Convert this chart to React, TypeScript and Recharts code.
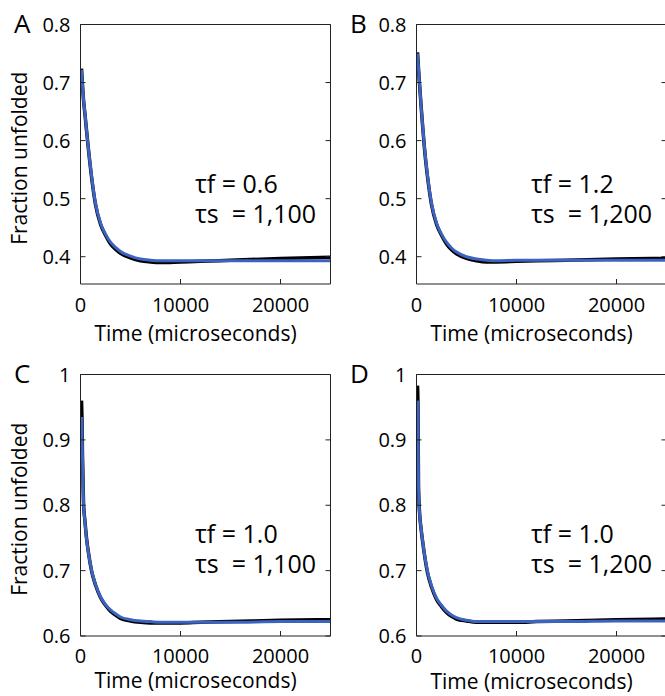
import { LineChart, Line, XAxis, YAxis } from 'recharts'

// time points (microseconds)
const timeUs = [100, 150, 200, 300, 450, 600, 800, 1100, 1500, 2000, 2500, 3000, 3500, 4000, 5000, 6000, 7000, 8000, 10000, 12000, 15000, 20000, 25000]

// panel A: tf = 0.6, ts = 1,100
const measuredA = [0.724, 0.710, 0.695, 0.670, 0.645, 0.618, 0.584, 0.538, 0.490, 0.456, 0.437, 0.422, 0.413, 0.406, 0.398, 0.393, 0.391, 0.390, 0.391, 0.392, 0.394, 0.397, 0.399]
const fitA = [0.722, 0.709, 0.695, 0.671, 0.646, 0.619, 0.585, 0.540, 0.492, 0.458, 0.439, 0.425, 0.416, 0.409, 0.401, 0.396, 0.394, 0.393, 0.393, 0.393, 0.393, 0.393, 0.393]

// panel B: tf = 1.2, ts = 1,200
const measuredB = [0.752, 0.738, 0.724, 0.698, 0.662, 0.628, 0.586, 0.538, 0.490, 0.456, 0.437, 0.422, 0.412, 0.405, 0.397, 0.393, 0.391, 0.391, 0.392, 0.393, 0.394, 0.396, 0.397]
const fitB = [0.750, 0.737, 0.724, 0.699, 0.663, 0.629, 0.588, 0.540, 0.492, 0.458, 0.439, 0.425, 0.415, 0.408, 0.400, 0.396, 0.394, 0.393, 0.394, 0.394, 0.394, 0.394, 0.394]

// panel C: tf = 1.0, ts = 1,100
const measuredC = [0.960, 0.930, 0.875, 0.805, 0.775, 0.750, 0.727, 0.700, 0.678, 0.659, 0.647, 0.638, 0.632, 0.627, 0.623, 0.621, 0.620, 0.620, 0.620, 0.621, 0.622, 0.624, 0.625]
const fitC = [0.935, 0.915, 0.872, 0.804, 0.774, 0.749, 0.727, 0.701, 0.679, 0.660, 0.648, 0.640, 0.634, 0.629, 0.625, 0.623, 0.622, 0.621, 0.621, 0.621, 0.621, 0.622, 0.622]

// panel D: tf = 1.0, ts = 1,200
const measuredD = [0.983, 0.950, 0.830, 0.790, 0.765, 0.746, 0.724, 0.697, 0.675, 0.656, 0.645, 0.636, 0.630, 0.626, 0.623, 0.621, 0.621, 0.621, 0.621, 0.622, 0.623, 0.625, 0.626]
const fitD = [0.960, 0.940, 0.828, 0.789, 0.766, 0.747, 0.725, 0.699, 0.677, 0.658, 0.647, 0.638, 0.632, 0.628, 0.624, 0.622, 0.622, 0.622, 0.622, 0.622, 0.622, 0.623, 0.623]

const xTicks = [0, 10000, 20000]
const yTicksTop = [0.4, 0.5, 0.6, 0.7, 0.8]
const yTicksBottom = [0.6, 0.7, 0.8, 0.9, 1]

const FRAME = '#222'
const BLUE = '#3d63c2'

interface PanelProps {
  letter: string
  measured: number[]
  fit: number[]
  yDomain: [number, number]
  yTicks: number[]
  plotHeight: number
  left: number
  top: number
  showYLabel: boolean
  labelOffset: number
  tickGap: number
  tauF: string
  tauS: string
}

function Panel({ measured, fit, yDomain, yTicks, plotHeight, left, top, showYLabel, labelOffset, tickGap }: PanelProps) {
  const data = timeUs.map((t, i) => ({ t, measured: measured[i], fit: fit[i] }))
  // half-pixel margins keep the 1px box lines crisp
  return (
    <div style={{ position: 'absolute', left, top }}>
      <LineChart width={335} height={24 + plotHeight + 66} data={data} margin={{ top: 23.5, right: 3.5, bottom: 0, left: 0.5 }}>
        <XAxis
          dataKey="t" type="number" domain={[0, 25000]} ticks={xTicks} interval={0}
          allowDataOverflow tickSize={-5} tickMargin={tickGap} height={66} stroke={FRAME}
          tick={{ fill: '#000', fontSize: 20 }}
          label={{ value: 'Time (microseconds)', position: 'insideBottom', offset: labelOffset, dx: -10, fill: '#000', fontSize: 21 }}
        />
        <XAxis
          xAxisId="top" orientation="top" type="number" domain={[0, 25000]} ticks={xTicks}
          allowDataOverflow interval={0} tickSize={-5} height={1} stroke={FRAME} tickFormatter={() => ''}
        />
        <YAxis
          type="number" domain={yDomain} ticks={yTicks} interval={0} allowDataOverflow
          tickSize={-5} tickMargin={15} width={80} stroke={FRAME}
          tick={{ fill: '#000', fontSize: 20 }}
          label={showYLabel ? { value: 'Fraction unfolded', angle: -90, position: 'center', dx: -21, dy: 4, fill: '#000', fontSize: 21 } : undefined}
        />
        <YAxis
          yAxisId="right" orientation="right" type="number" domain={yDomain} ticks={yTicks}
          allowDataOverflow interval={0} tickSize={-5} width={1} stroke={FRAME} tickFormatter={() => ''}
        />
        <Line type="monotone" dataKey="measured" stroke="#000" strokeWidth={3.5} dot={false} activeDot={false} isAnimationActive={false} />
        <Line type="monotone" dataKey="fit" stroke={BLUE} strokeWidth={3} dot={false} activeDot={false} isAnimationActive={false} />
      </LineChart>
    </div>
  )
}

const panels: PanelProps[] = [
  { letter: 'A', measured: measuredA, fit: fitA, yDomain: [0.353, 0.8], yTicks: yTicksTop, plotHeight: 260, left: 0, top: 0, showYLabel: true, labelOffset: 9, tickGap: 19, tauF: '0.6', tauS: '1,100' },
  { letter: 'B', measured: measuredB, fit: fitB, yDomain: [0.353, 0.8], yTicks: yTicksTop, plotHeight: 260, left: 336, top: 0, showYLabel: false, labelOffset: 9, tickGap: 19, tauF: '1.2', tauS: '1,200' },
  { letter: 'C', measured: measuredC, fit: fitC, yDomain: [0.6, 1], yTicks: yTicksBottom, plotHeight: 262, left: 0, top: 350, showYLabel: true, labelOffset: 14, tickGap: 18, tauF: '1.0', tauS: '1,100' },
  { letter: 'D', measured: measuredD, fit: fitD, yDomain: [0.6, 1], yTicks: yTicksBottom, plotHeight: 262, left: 336, top: 350, showYLabel: false, labelOffset: 13, tickGap: 18, tauF: '1.0', tauS: '1,200' },
]

export default function App() {
  return (
    <div style={{ position: 'absolute', left: 0, top: 0, width: 665, height: 696, overflow: 'hidden', background: '#fff', fontFamily: "'Open Sans', sans-serif" }}>
      {panels.map(p => <Panel key={p.letter} {...p} />)}
      <svg width={665} height={696} style={{ position: 'absolute', left: 0, top: 0, pointerEvents: 'none' }}>
        {panels.map(p => (
          <g key={p.letter} fill="#000">
            <text x={p.left + 14} y={p.top + 33} fontSize={26}>{p.letter}</text>
            <text x={p.left + 195} y={p.top + 193} fontSize={25}>{`τf = ${p.tauF}`}</text>
            <text x={p.left + 195} y={p.top + 223} fontSize={25}>{`τs\u00a0\u00a0= ${p.tauS}`}</text>
          </g>
        ))}
      </svg>
    </div>
  )
}
